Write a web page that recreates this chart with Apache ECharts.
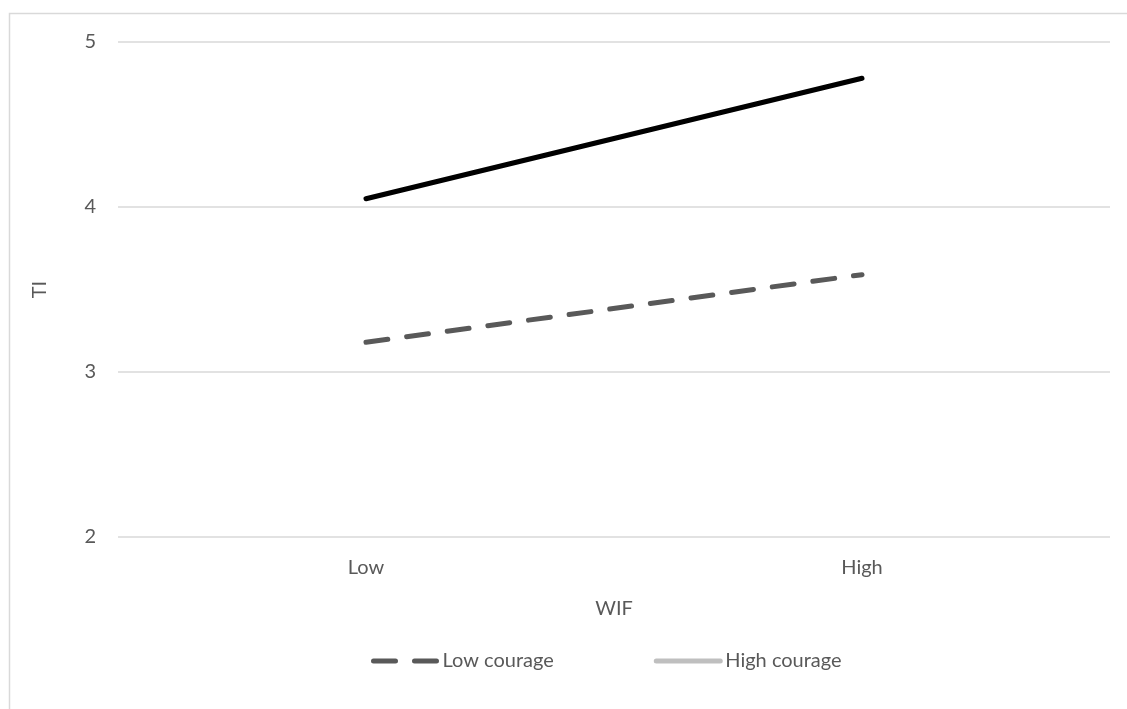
<!DOCTYPE html>
<html>
<head>
<meta charset="utf-8">
<style>html,body{margin:0;padding:0;background:#fff}#c{width:1127px;height:709px}</style>
<script src="https://cdn.jsdelivr.net/npm/echarts@6/dist/echarts.min.js"></script>
</head>
<body>
<div id="c"></div>
<script>
const categories = ['Low', 'High'];
const lowCourage = [3.18, 3.59];
const highCourage = [4.05, 4.78];
const yTicks = [2, 3, 4, 5];

const FONT = 'Lato';
const TXT = '#595959';
const FS = 20;
const chart = echarts.init(document.getElementById('c'));
chart.setOption({
  animation: false,
  backgroundColor: '#fff',
  textStyle: { fontFamily: FONT },
  graphic: [{
    type: 'rect', silent: true, z: -1,
    shape: { x: 9.5, y: 13.5, width: 1200, height: 800 },
    style: { fill: 'none', stroke: '#d9d9d9', lineWidth: 1.5 }
  }],
  grid: { left: 118, right: 17, top: 42, bottom: 172 },
  legend: {
    top: 646, left: 366,
    itemGap: 100,
    itemWidth: 64, itemHeight: 14,
    itemStyle: { opacity: 0 },
    textStyle: { color: TXT, fontSize: FS, fontFamily: FONT, padding: [0, 0, 0, 0] },
    data: [
      { name: 'Low courage', itemStyle: { opacity: 0 }, lineStyle: { color: '#595959', width: 5, type: [22, 19], cap: 'round' } },
      { name: 'High courage', itemStyle: { opacity: 0 }, lineStyle: { color: '#bfbfbf', width: 5, type: 'solid', cap: 'round' } }
    ]
  },
  xAxis: {
    type: 'category', data: categories, boundaryGap: true,
    name: 'WIF', nameLocation: 'middle', nameGap: 62,
    nameTextStyle: { color: TXT, fontSize: FS, fontFamily: FONT },
    axisLine: { show: false }, axisTick: { show: false },
    axisLabel: { color: TXT, fontSize: FS, margin: 21, fontFamily: FONT }
  },
  yAxis: {
    type: 'value', min: yTicks[0], max: yTicks[yTicks.length - 1], interval: 1,
    name: 'TI', nameLocation: 'middle', nameGap: 68, nameRotate: 90,
    nameTextStyle: { color: TXT, fontSize: FS, fontFamily: FONT },
    axisLine: { show: false }, axisTick: { show: false },
    axisLabel: { color: TXT, fontSize: FS, margin: 22, fontFamily: FONT },
    splitLine: { lineStyle: { color: '#d9d9d9', width: 1.5 } }
  },
  series: [
    {
      name: 'Low courage', type: 'line', data: lowCourage, symbol: 'none',
      itemStyle: { color: '#595959' },
      lineStyle: { color: '#595959', width: 5, type: [22, 19], cap: 'round' }
    },
    {
      name: 'High courage', type: 'line', data: highCourage, symbol: 'none',
      itemStyle: { color: '#bfbfbf' },
      lineStyle: { color: '#000000', width: 5, type: 'solid', cap: 'round' }
    }
  ]
});
</script>
</body>
</html>
